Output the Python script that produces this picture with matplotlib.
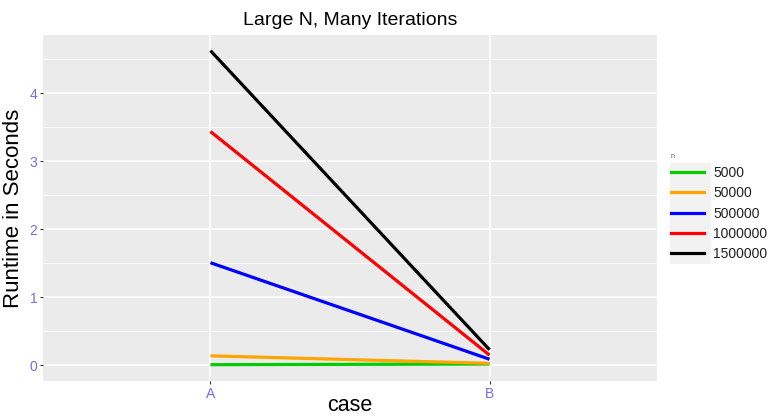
import matplotlib.pyplot as plt
from matplotlib.lines import Line2D
from matplotlib.patches import Rectangle

plt.rcParams["font.family"] = ["Liberation Sans", "DejaVu Sans"]

# ---------------- Data ----------------
cases = ["A", "B"]
n_labels = ["5000", "50000", "500000", "1000000", "1500000"]
runtime_a = [0.01, 0.14, 1.51, 3.44, 4.63]
runtime_b = [0.02, 0.03, 0.09, 0.15, 0.23]
colors = ["#00CC00", "#FFA500", "#0000FF", "#FF0000", "#000000"]

# ---------------- Plotting ----------------
fig = plt.figure(figsize=(7.71, 4.16), dpi=100)
ax = fig.add_axes([43 / 771, 35 / 416, 614 / 771, 346 / 416])
ax.set_facecolor("#EBEBEB")

x = [0, 1]
for i in range(len(n_labels)):
    ax.plot(x, [runtime_a[i], runtime_b[i]], color=colors[i], lw=2.3,
            solid_capstyle="butt", zorder=3)

ax.set_xlim(-0.6, 1.6)
ax.set_ylim(-0.23, 4.86)
ax.set_xticks(x)
ax.set_xticklabels(cases)
ax.set_yticks([0, 1, 2, 3, 4])
ax.set_yticks([0.5, 1.5, 2.5, 3.5, 4.5], minor=True)
ax.grid(True, which="major", color="white", lw=1.1)
ax.grid(True, which="minor", axis="y", color="white", lw=0.5)
ax.set_axisbelow(True)
for s in ax.spines.values():
    s.set_visible(False)
ax.tick_params(axis="both", which="major", colors="#333333", labelcolor="#7B68EE",
               labelsize=10, length=2.5, pad=1.5)
ax.tick_params(axis="y", which="minor", length=0)

ax.set_xlabel("case", fontsize=15.5, color="black", labelpad=-4)
ax.set_ylabel("Runtime in Seconds", fontsize=16, color="black", labelpad=4)
ax.set_title("Large N, Many Iterations", fontsize=14, color="black", pad=7)

# legend key background
fig.patches.append(Rectangle((670 / 771, 1 - 264 / 416), 41 / 771, 101 / 416,
                             transform=fig.transFigure, facecolor="#F2F2F2",
                             edgecolor="none", zorder=0))

handles = [Line2D([0], [0], color=c, lw=2.3) for c in colors]
leg = fig.legend(handles, n_labels, title="n", loc="upper left",
                 bbox_to_anchor=(668 / 771, 1 - 150 / 416), frameon=False,
                 fontsize=10, title_fontsize=5, handlelength=2.4,
                 handletextpad=0.65, labelspacing=0.45, borderaxespad=0,
                 borderpad=0.2)
leg._legend_box.align = "left"
for t in leg.get_texts():
    t.set_color("#222222")
leg.get_title().set_color("#555555")

plt.savefig("out.png", dpi=100)
